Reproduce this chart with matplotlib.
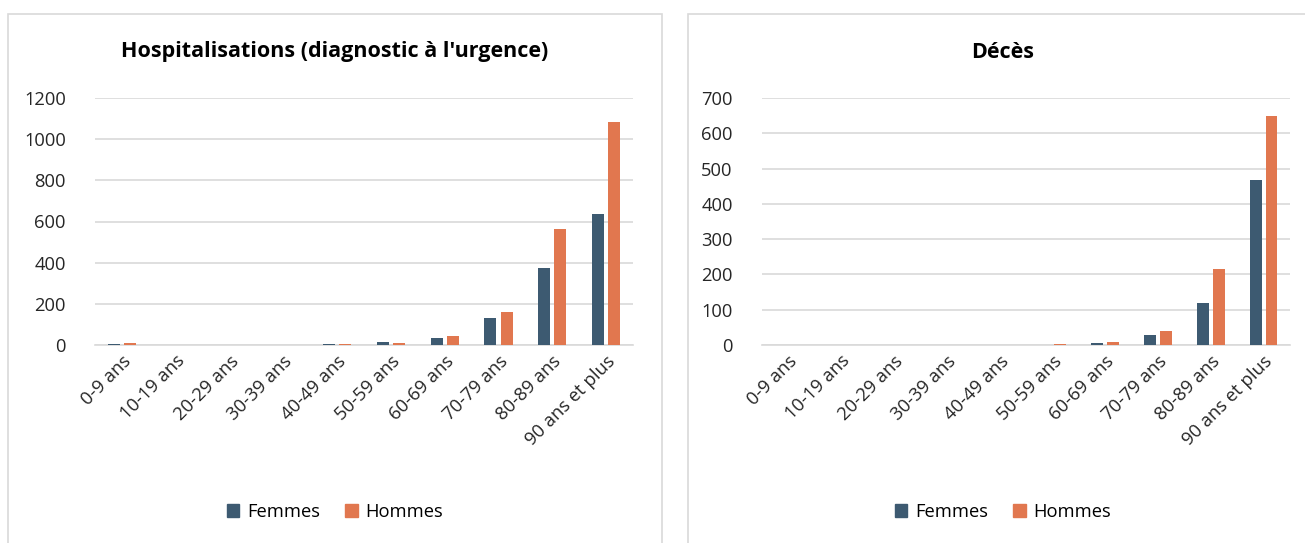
import numpy as np
import matplotlib.pyplot as plt
from matplotlib.patches import Rectangle

plt.rcParams['font.family'] = ['Open Sans', 'DejaVu Sans']

ages = ['0-9 ans', '10-19 ans', '20-29 ans', '30-39 ans', '40-49 ans',
        '50-59 ans', '60-69 ans', '70-79 ans', '80-89 ans', '90 ans et plus']

# hospitalisations (diagnostic à l'urgence)
hosp_femmes = [6, 1, 2, 1, 4, 16, 36, 131, 372, 638]
hosp_hommes = [11, 1, 2, 1, 6, 12, 42, 158, 563, 1083]

# décès
deces_femmes = [0, 0, 0, 0, 0, 1, 5, 28, 118, 467]
deces_hommes = [0, 0, 0, 0, 0, 2, 8, 41, 214, 648]

C_F = '#3D5A71'
C_H = '#E1774F'
GRID = '#D9D9D9'

fig = plt.figure(figsize=(13.05, 5.43), dpi=100)
W, H = 1305, 543

# panel borders
for x0, x1 in [(8, 662), (688, 1318)]:
    fig.patches.append(Rectangle((x0 / W, -0.05), (x1 - x0) / W, 1.05 - 14 / H,
                                 transform=fig.transFigure, fill=False,
                                 edgecolor=GRID, linewidth=1.2))


def draw(ax, fem, hom, ymax, step, title, cx):
    x = np.arange(len(ages))
    w = 0.225
    ax.bar(x - 0.15, fem, w, color=C_F, zorder=3)
    ax.bar(x + 0.15, hom, w, color=C_H, zorder=3)
    ax.set_xlim(-0.5, len(ages) - 0.5)
    ax.set_ylim(0, ymax)
    ax.set_yticks(np.arange(0, ymax + 1, step))
    ax.yaxis.grid(True, color=GRID, linewidth=1.2, zorder=0)
    ax.set_xticks(x)
    ax.set_xticklabels(ages, rotation=45, ha='right', va='top',
                       rotation_mode='anchor', fontsize=13.2, color='#262626')
    ax.tick_params(axis='both', length=0, labelsize=13.2, colors='#262626')
    ax.tick_params(axis='y', pad=21)
    ax.tick_params(axis='x', pad=5)
    for s in ['top', 'right', 'left']:
        ax.spines[s].set_visible(False)
    ax.spines['bottom'].set_color(GRID)
    ax.spines['bottom'].set_linewidth(1.2)
    fig.text(cx / W, 1 - 52 / H, title, ha='center', va='center',
             fontsize=15.5, fontweight='bold', color='black')
    fig.legend(handles=[Rectangle((0, 0), 1, 1, color=C_F),
                        Rectangle((0, 0), 1, 1, color=C_H)],
               labels=['Femmes', 'Hommes'], loc='center',
               bbox_to_anchor=(cx / W, 1 - 512 / H), ncol=2, frameon=False,
               fontsize=13.2, handlelength=0.7, handleheight=0.7,
               handletextpad=0.4, columnspacing=1.4)


ax1 = fig.add_axes([95 / W, 198 / H, 538 / W, 247 / H])
ax2 = fig.add_axes([762 / W, 198 / H, 528 / W, 247 / H])

draw(ax1, hosp_femmes, hosp_hommes, 1200, 200,
     "Hospitalisations (diagnostic à l'urgence)", 335)
draw(ax2, deces_femmes, deces_hommes, 700, 100, 'Décès', 1003)

fig.savefig('out.png', dpi=100, facecolor='white')
